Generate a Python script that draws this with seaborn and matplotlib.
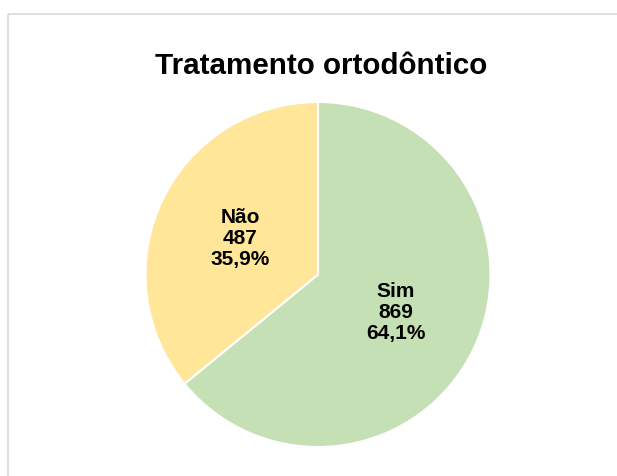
import matplotlib
matplotlib.use("Agg")
import matplotlib.pyplot as plt
import seaborn as sns
from matplotlib.lines import Line2D

# Data
categories = ["Sim", "Não"]
counts = [869, 487]
percents = ["64,1%", "35,9%"]
colors = ["#C5E0B4", "#FFE699"]
title = "Tratamento ortodôntico"

sns.set_theme(style="white")
plt.rcParams["font.family"] = ["Liberation Sans", "DejaVu Sans"]

fig = plt.figure(figsize=(6.17, 4.77), dpi=100, edgecolor="white", linewidth=0)

# light chart-area border (only top and left edges visible)
x0, y0 = 7.5 / 617, 1 - 14.5 / 477
fig.add_artist(Line2D([x0, 1.05], [y0, y0], transform=fig.transFigure,
                      color="#D9D9D9", linewidth=1.2, solid_capstyle="butt"))
fig.add_artist(Line2D([x0, x0], [-0.05, y0], transform=fig.transFigure,
                      color="#D9D9D9", linewidth=1.2, solid_capstyle="butt"))

ax = fig.add_axes([145.5 / 617, 29 / 477, 345 / 617, 345 / 477])
labels = [f"{c}\n{n}\n{p}" for c, n, p in zip(categories, counts, percents)]
wedges, texts = ax.pie(counts, colors=colors, startangle=90, counterclock=False,
                       labels=labels, labeldistance=0.5,
                       wedgeprops=dict(edgecolor="white", linewidth=1.5),
                       textprops=dict(fontsize=15, fontweight="bold",
                                      ha="center", va="center",
                                      linespacing=1.15, color="black"))
ax.set_xlim(-1, 1)
ax.set_ylim(-1, 1)
ax.set_aspect("equal")

fig.text(321 / 617, 1 - 66 / 477, title, ha="center", va="center",
         fontsize=21.3, fontweight="bold", color="black")

fig.savefig("out.png", dpi=100, edgecolor="white")
